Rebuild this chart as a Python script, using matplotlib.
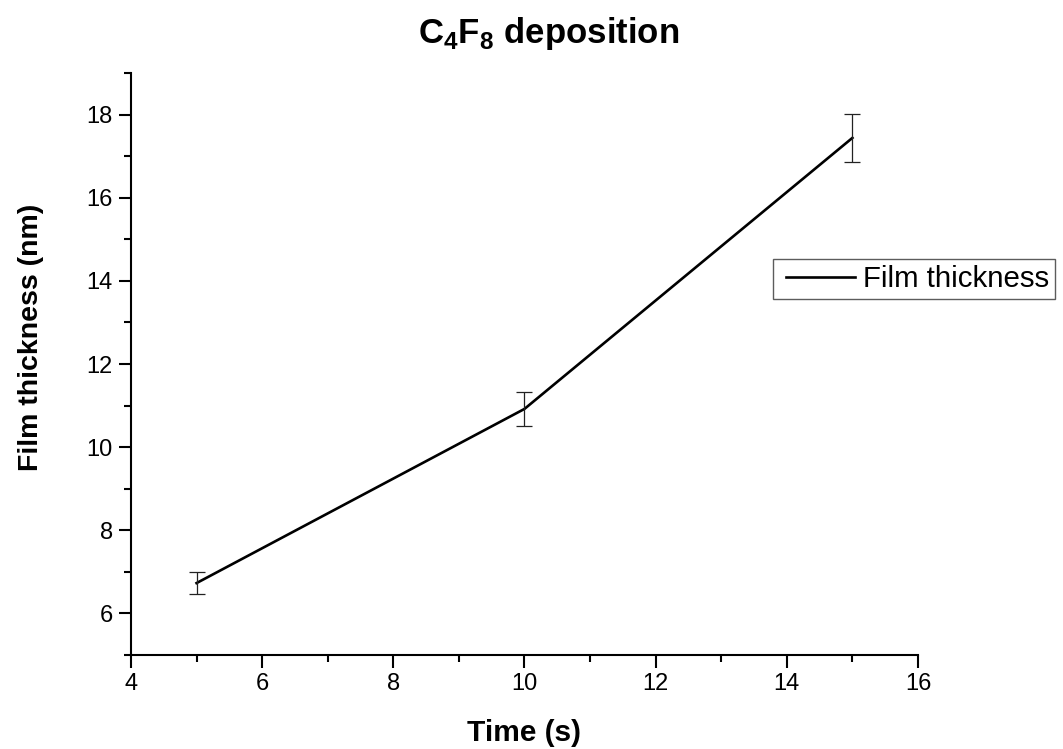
import matplotlib
matplotlib.use("Agg")
import matplotlib.pyplot as plt
from matplotlib.ticker import MultipleLocator
from matplotlib.legend_handler import HandlerLine2D

plt.rcParams['font.family'] = ['Liberation Sans', 'DejaVu Sans']
plt.rcParams['mathtext.fontset'] = 'custom'
plt.rcParams['mathtext.rm'] = 'Liberation Sans'
plt.rcParams['mathtext.bf'] = 'Liberation Sans:bold'

# dados
tempo = [5, 10, 15]
espessura = [6.73, 10.92, 17.44]
erro = [0.27, 0.40, 0.58]

fig = plt.figure(figsize=(10.63, 7.49), dpi=100)
ax = fig.add_axes([0.1232, 0.1255, 0.7404, 0.777])

linha, = ax.plot(tempo, espessura, color='black', lw=1.9, label='Film thickness')
ax.errorbar(tempo, espessura, yerr=erro, fmt='none', ecolor='#222222',
            elinewidth=0.9, capsize=5.5, capthick=0.9)

ax.set_xlim(4, 16)
ax.set_ylim(5, 19)
ax.xaxis.set_major_locator(MultipleLocator(2))
ax.xaxis.set_minor_locator(MultipleLocator(1))
ax.yaxis.set_minor_locator(MultipleLocator(1))
ax.set_yticks(range(6, 19, 2))

for s in ['top', 'right']:
    ax.spines[s].set_visible(False)
for s in ['left', 'bottom']:
    ax.spines[s].set_linewidth(1.5)
ax.tick_params(which='major', direction='out', length=9, width=1.5, labelsize=17, pad=4)
ax.tick_params(which='minor', direction='out', length=5, width=1.5)

ax.set_xlabel('Time (s)', fontsize=21.5, fontweight='bold')
ax.set_ylabel('Film thickness (nm)', fontsize=20.5, fontweight='bold')
ax.xaxis.set_label_coords(0.5, -0.11)
ax.yaxis.set_label_coords(-0.1105, 0.545)

fig.text(549/1063, 1 - 33/749, r'$\mathbf{C}_\mathbf{4}\mathbf{F}_\mathbf{8}$ deposition',
         fontsize=25, fontweight='bold', ha='center', va='center')

leg = fig.legend(handles=[linha], loc='upper left', bbox_to_anchor=(773/1063, 1 - 259/749),
                 fontsize=21.2, frameon=True, fancybox=False, borderpad=0.2,
                 handlelength=2.6, handletextpad=0.27, borderaxespad=0,
                 handler_map={linha: HandlerLine2D(xpad=0.23)})
leg.get_frame().set_edgecolor('#333333')
leg.get_frame().set_linewidth(1.0)

fig.savefig('out.png', dpi=100)
